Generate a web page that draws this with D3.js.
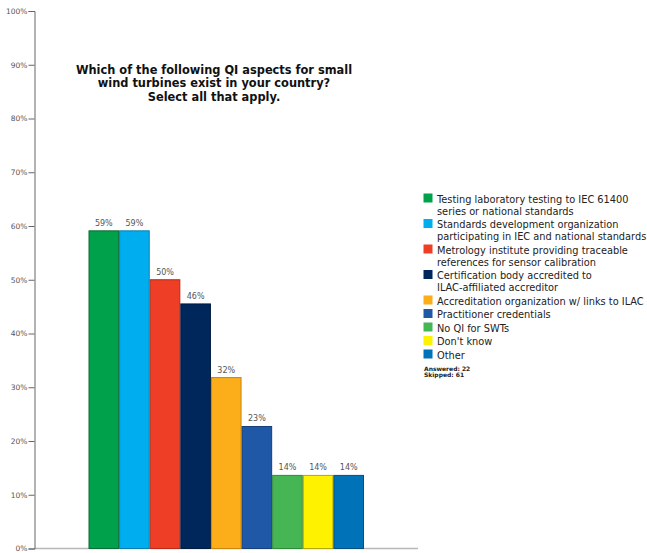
<!DOCTYPE html>
<html>
<head>
<meta charset="utf-8">
<script src="https://cdn.jsdelivr.net/npm/d3@7/dist/d3.min.js"></script>
<style>
  html, body { margin: 0; padding: 0; background: #fff; }
  svg { display: block; font-family: Verdana, "DejaVu Sans", sans-serif; }
</style>
</head>
<body>
<svg id="chart" width="647" height="553"></svg>
<script>
// Survey answer options, response shares (%) and styling
const categories = [
  "Testing laboratory testing to IEC 61400 series or national standards",
  "Standards development organization participating in IEC and national standards",
  "Metrology institute providing traceable references for sensor calibration",
  "Certification body accredited to ILAC-affiliated accreditor",
  "Accreditation organization w/ links to ILAC",
  "Practitioner credentials",
  "No QI for SWTs",
  "Don't know",
  "Other"
];
const legendLines = [
  ["Testing laboratory testing to IEC 61400", "series or national standards"],
  ["Standards development organization", "participating in IEC and national standards"],
  ["Metrology institute providing traceable", "references for sensor calibration"],
  ["Certification body accredited to", "ILAC-affiliated accreditor"],
  ["Accreditation organization w/ links to ILAC"],
  ["Practitioner credentials"],
  ["No QI for SWTs"],
  ["Don't know"],
  ["Other"]
];
const percents = [59.1, 59.1, 50, 45.5, 31.8, 22.7, 13.6, 13.6, 13.6];
const answered = 22;
const skipped = 61;
const fills = ["#00a14b", "#00aeef", "#ef3e26", "#00275c", "#fbad1a", "#2058a8", "#46b655", "#fff200", "#0072b8"];
const strokes = ["#0b6b35", "#0a7fae", "#b82a16", "#001a40", "#c9850e", "#163f7c", "#2f8a3a", "#b5a800", "#054f82"];
const yTicks = [0, 10, 20, 30, 40, 50, 60, 70, 80, 90, 100];
const titleLines = [
  "Which of the following QI aspects for small",
  "wind turbines exist in your country?",
  "Select all that apply."
];

const svg = d3.select("#chart");

const y = d3.scaleLinear().domain([0, 100]).range([548.5, 11]);
const x = d3.scaleBand().domain(categories).range([88.5, 364]).padding(0);

// Horizontal baseline
svg.append("line")
  .attr("x1", 34.5).attr("x2", 418)
  .attr("y1", y(0)).attr("y2", y(0))
  .attr("stroke", "#b8b8b8").attr("stroke-width", 1.5);

// Vertical axis with percentage ticks
const yAxis = d3.axisLeft(y)
  .tickValues(yTicks)
  .tickFormat(d => d + "%")
  .tickSize(6)
  .tickPadding(1);
const gy = svg.append("g")
  .attr("transform", "translate(34.5,0)")
  .call(yAxis);
gy.select(".domain").attr("stroke", "#666").attr("stroke-width", 1);
gy.selectAll(".tick line").attr("stroke", "#666");
gy.selectAll(".tick text")
  .attr("fill", "#555")
  .style("font-size", "7.5px")
  .style("font-family", "Verdana, 'DejaVu Sans', sans-serif");

// Bars
svg.selectAll("rect.bar")
  .data(categories)
  .join("rect")
  .attr("class", "bar")
  .attr("x", d => x(d) + 0.5)
  .attr("width", x.bandwidth() - 1)
  .attr("y", (d, i) => y(percents[i]))
  .attr("height", (d, i) => y(0) - y(percents[i]))
  .attr("fill", (d, i) => fills[i])
  .attr("stroke", (d, i) => strokes[i])
  .attr("stroke-width", 1);

// Value labels
svg.selectAll("text.val")
  .data(categories)
  .join("text")
  .attr("class", "val")
  .attr("x", d => x(d) + x.bandwidth() / 2)
  .attr("y", (d, i) => y(percents[i]) - 5)
  .attr("text-anchor", "middle")
  .attr("fill", "#555")
  .style("font-size", "8px")
  .text((d, i) => Math.round(percents[i]) + "%");

// Title
svg.append("text")
  .attr("text-anchor", "middle")
  .attr("fill", "#111")
  .style("font-size", "11.4px")
  .style("font-weight", "bold")
  .selectAll("tspan")
  .data(titleLines)
  .join("tspan")
  .attr("x", 214)
  .attr("y", (d, i) => 73.5 + i * 13.5)
  .text(d => d);

// Legend: 12px between wrapped lines, 13.5px from one entry's last line to the next entry
const legend = svg.append("g");
let ly = 199;
legendLines.forEach((lines, i) => {
  legend.append("rect")
    .attr("x", 423.5).attr("y", ly - 5.5)
    .attr("width", 9).attr("height", 9)
    .attr("fill", fills[i]);
  lines.forEach((ln, j) => {
    legend.append("text")
      .attr("x", 437)
      .attr("y", ly + 3.8 + j * 12)
      .attr("fill", "#222")
      .style("font-size", "9.8px")
      .text(ln);
  });
  ly += (lines.length - 1) * 12 + 13.5;
});

svg.append("text")
  .attr("x", 424).attr("y", 370.5)
  .attr("fill", "#222")
  .style("font-size", "6px").style("font-weight", "bold")
  .text("Answered: " + answered);
svg.append("text")
  .attr("x", 424).attr("y", 377)
  .attr("fill", "#222")
  .style("font-size", "6px").style("font-weight", "bold")
  .text("Skipped: " + skipped);
</script>
</body>
</html>
